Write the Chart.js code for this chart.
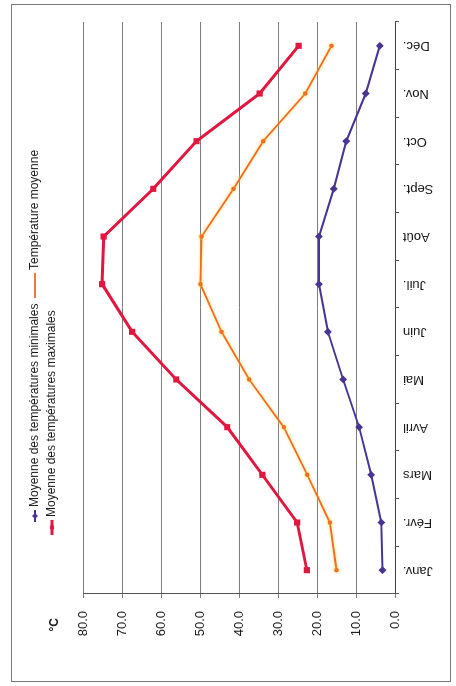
<!DOCTYPE html>
<html>
<head>
<meta charset="utf-8">
<script src="https://cdn.jsdelivr.net/npm/chart.js@4/dist/chart.umd.min.js"></script>
<style>
  html, body { margin:0; padding:0; background:#fff; overflow:hidden; }
  /* the scanned chart is turned a quarter turn, so the canvas is drawn upright and rotated */
  #wrap { position:absolute; left:-115px; top:115px; width:686px; height:456px; transform:rotate(-90deg); }
</style>
</head>
<body>
<div id="wrap"><canvas id="tempChart" width="686" height="456"></canvas></div>
<script>
const months = ['Janv.','Févr.','Mars','Avril','Mai','Juin','Juil.','Août','Sept.','Oct.','Nov.','Déc.'];
const tempMin = [3.2, 3.5, 6.1, 9.2, 13.3, 17.2, 19.5, 19.5, 15.7, 12.5, 7.5, 3.9];
const tempMoy = [15.0, 16.7, 22.5, 28.5, 37.4, 44.5, 49.9, 49.6, 41.4, 33.8, 23.0, 16.3];
const tempMax = [22.6, 25.1, 34.0, 43.0, 56.1, 67.4, 75.1, 74.7, 62.0, 50.9, 34.7, 24.7];
const yTicks = [0, 10, 20, 30, 40, 50, 60, 70, 80];

Chart.defaults.font.family = '"Liberation Sans", Arial, sans-serif';
Chart.defaults.color = '#1a1a1a';

// legend placement, one entry per dataset: [x, y, sample length]
const legendPos = [[164, 35, 12], [388, 35, 25], [151, 52, 15]];

const frameAndLegend = {
  id: 'frameAndLegend',
  afterDraw(chart){
    const ctx = chart.ctx;
    ctx.save();
    ctx.strokeStyle = '#777'; ctx.lineWidth = 1;
    ctx.strokeRect(4.5, 11.5, 677, 439);
    // unit label above the value axis
    ctx.fillStyle = '#1a1a1a';
    ctx.font = 'bold 12px "Liberation Sans", Arial, sans-serif';
    ctx.textAlign = 'right'; ctx.textBaseline = 'middle';
    ctx.fillText('°C', 68, 55);
    ctx.font = '12px "Liberation Sans", Arial, sans-serif';
    ctx.textAlign = 'left';
    chart.data.datasets.forEach((ds, i) => {
      const [x, y, len] = legendPos[i];
      ctx.strokeStyle = ds.borderColor; ctx.lineWidth = ds.borderWidth;
      ctx.beginPath(); ctx.moveTo(x, y); ctx.lineTo(x + len, y); ctx.stroke();
      if (ds.legendMarker) {
        ctx.fillStyle = ds.borderColor;
        Chart.helpers.drawPoint(ctx, {pointStyle: ds.pointStyle, radius: ds.pointRadius + 0.5}, x + len / 2, y);
      }
      ctx.fillStyle = '#1a1a1a';
      ctx.fillText(ds.label, x + len + 3, y);
    });
    ctx.restore();
  }
};

const glow = {
  id: 'glow',
  beforeDatasetDraw(chart, args){
    if (args.index === 1) { chart.ctx.save(); chart.ctx.shadowColor = 'rgba(255,215,60,0.9)'; chart.ctx.shadowBlur = 3; }
  },
  afterDatasetDraw(chart, args){
    if (args.index === 1) chart.ctx.restore();
  }
};

new Chart(document.getElementById('tempChart'), {
  type: 'line',
  data: {
    labels: months,
    datasets: [
      { label: 'Moyenne des températures minimales', data: tempMin, borderColor: '#4a3493', backgroundColor: '#4a3493',
        borderWidth: 2, pointStyle: 'rectRot', pointRadius: 2.5, legendMarker: true },
      { label: 'Température moyenne', data: tempMoy, borderColor: '#f06a2c', backgroundColor: '#f06a2c',
        borderWidth: 1.8, pointStyle: 'circle', pointRadius: 1.3, legendMarker: false },
      { label: 'Moyenne des températures maximales', data: tempMax, borderColor: '#e0173f', backgroundColor: '#e0173f',
        borderWidth: 3, pointStyle: 'rect', pointRadius: 2.2, legendMarker: true }
    ]
  },
  options: {
    responsive: false,
    animation: false,
    layout: { padding: { left: 40, right: 22, top: 83, bottom: 21 } },
    plugins: { legend: { display: false }, tooltip: { enabled: false } },
    elements: { line: { tension: 0 } },
    scales: {
      x: {
        offset: true,
        grid: { offset: true, drawOnChartArea: false, tickLength: 4, color: '#555' },
        border: { color: '#444', width: 1 },
        ticks: { minRotation: 90, maxRotation: 90, padding: 4, autoSkip: false, font: { size: 13 } },
        afterFit: s => { s.height = 40; }
      },
      y: {
        min: 0, max: 80,
        afterBuildTicks: s => { s.ticks = yTicks.map(v => ({ value: v })); },
        grid: { color: '#7d7d7d', tickLength: 4 },
        border: { color: '#555', width: 1 },
        ticks: { padding: 13, font: { size: 13 }, callback: v => v.toFixed(1) },
        afterFit: s => { s.width = 52; }
      }
    }
  },
  plugins: [glow, frameAndLegend]
});
</script>
</body>
</html>
